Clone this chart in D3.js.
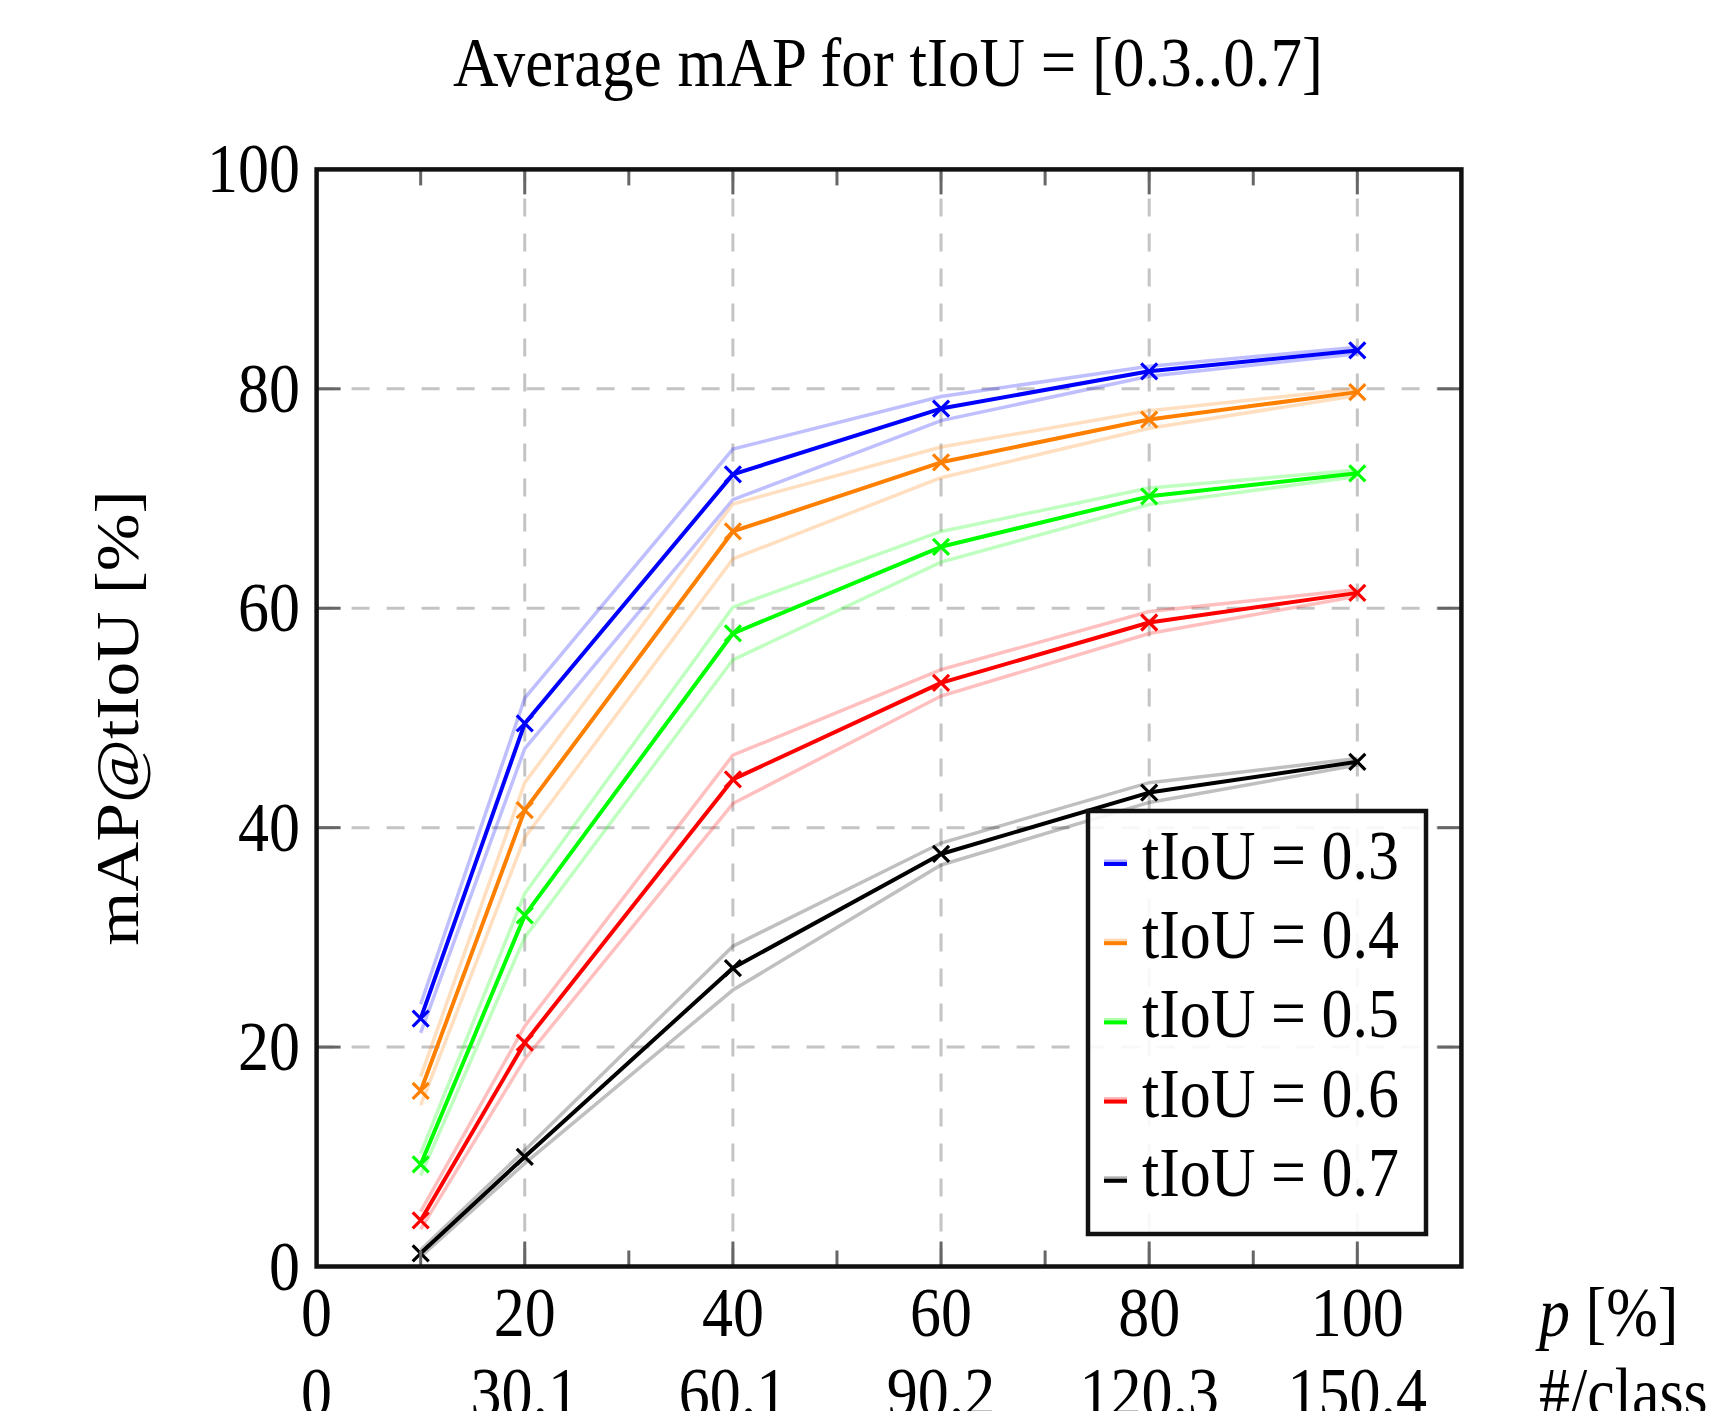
<!DOCTYPE html>
<html>
<head>
<meta charset="utf-8">
<script src="https://cdn.jsdelivr.net/npm/d3@7"></script>
<style>
  html, body { margin: 0; padding: 0; background: #fff; }
  svg { display: block; }
  text { font-family: "Liberation Serif", "DejaVu Serif", serif; fill: #000; }
</style>
</head>
<body>
<svg id="chart" width="1736" height="1411"></svg>
<script>
// ---------- data ----------
const pValues = [10, 20, 40, 60, 80, 100];
const seriesNames = ["tIoU = 0.3", "tIoU = 0.4", "tIoU = 0.5", "tIoU = 0.6", "tIoU = 0.7"];
const seriesColors = ["#0000ff", "#ff8000", "#00ff00", "#ff0000", "#000000"];
const mean03 = [22.6, 49.5, 72.2, 78.2, 81.6, 83.5];
const mean04 = [16.0, 41.6, 67.0, 73.3, 77.2, 79.7];
const mean05 = [9.3, 32.0, 57.7, 65.6, 70.2, 72.3];
const mean06 = [4.2, 20.4, 44.4, 53.2, 58.7, 61.4];
const mean07 = [1.2, 10.0, 27.2, 37.6, 43.2, 46.0];
const spread03 = [1.3, 2.3, 2.3, 1.1, 0.45, 0.3];
const spread04 = [1.3, 2.5, 2.5, 1.4, 0.8, 0.3];
const spread05 = [1.0, 2.0, 2.4, 1.4, 0.75, 0.3];
const spread06 = [0.8, 1.5, 2.2, 1.2, 1.0, 0.3];
const spread07 = [0.3, 0.6, 2.0, 1.0, 0.9, 0.3];
const xTicks = [0, 20, 40, 60, 80, 100];
const xTickLabels = ["0", "20", "40", "60", "80", "100"];
const xTickLabels2 = ["0", "30.1", "60.1", "90.2", "120.3", "150.4"];
const xMinorTicks = [10, 30, 50, 70, 90];
const yTicks = [0, 20, 40, 60, 80, 100];
const yTickLabels = ["0", "20", "40", "60", "80", "100"];
const titleText = "Average mAP for tIoU = [0.3..0.7]";
const yLabelText = "mAP@tIoU [%]";

const means = [mean03, mean04, mean05, mean06, mean07];
const spreads = [spread03, spread04, spread05, spread06, spread07];

// ---------- layout ----------
const pLeft = 316.6, pRight = 1461.4, pTop = 169.4, pBottom = 1266.5;
const FS = 62, SY = 1.12;
const svg = d3.select("#chart");
const x = d3.scaleLinear().domain([0, 110]).range([pLeft, pRight]);
const y = d3.scaleLinear().domain([0, 100]).range([pBottom, pTop]);

function tx(g, px, py, anchor, fs) {
  return g.append("text").attr("transform", `translate(${px},${py}) scale(1,${SY})`)
    .attr("text-anchor", anchor || "start").attr("font-size", fs || FS);
}

// grid
const grid = svg.append("g").attr("stroke", "#c4c4c4").attr("stroke-width", 3)
  .attr("stroke-dasharray", "18,17").attr("fill", "none");
grid.selectAll("line.vx").data(xTicks.filter(d => d > 0)).join("line").attr("class", "vx")
  .attr("x1", d => x(d)).attr("x2", d => x(d)).attr("y1", pBottom).attr("y2", pTop);
grid.selectAll("line.hy").data(yTicks.filter(d => d > 0 && d < 100)).join("line")
  .attr("class", "hy")
  .attr("y1", d => y(d)).attr("y2", d => y(d)).attr("x1", pLeft).attr("x2", pRight);

// series
const plot = svg.append("g");
const line = d3.line().x(d => x(d[0])).y(d => y(d[1]));
means.forEach((m, i) => {
  const col = seriesColors[i];
  const s = spreads[i];
  const up = pValues.map((p, k) => [p, m[k] + s[k]]);
  const lo = pValues.map((p, k) => [p, m[k] - s[k]]);
  [up, lo].forEach(b => {
    plot.append("path").attr("d", line(b)).attr("fill", "none")
      .attr("stroke", col).attr("stroke-opacity", 0.25).attr("stroke-width", 3.5);
  });
  const pts = pValues.map((p, k) => [p, m[k]]);
  plot.append("path").attr("d", line(pts)).attr("fill", "none")
    .attr("stroke", col).attr("stroke-width", 4).attr("stroke-linejoin", "round");
  plot.selectAll(null).data(pts).join("path")
    .attr("transform", d => `translate(${x(d[0])},${y(d[1])})`)
    .attr("d", "M-8,-8L8,8M-8,8L8,-8")
    .attr("stroke", col).attr("stroke-width", 3.2).attr("fill", "none");
});

// ticks
const ticks = svg.append("g").attr("stroke", "#666").attr("stroke-width", 3);
xTicks.filter(d => d > 0).forEach(d => {
  ticks.append("line").attr("x1", x(d)).attr("x2", x(d)).attr("y1", pBottom).attr("y2", pBottom - 25);
  ticks.append("line").attr("x1", x(d)).attr("x2", x(d)).attr("y1", pTop).attr("y2", pTop + 25);
});
xMinorTicks.forEach(d => {
  ticks.append("line").attr("x1", x(d)).attr("x2", x(d)).attr("y1", pBottom).attr("y2", pBottom - 16);
  ticks.append("line").attr("x1", x(d)).attr("x2", x(d)).attr("y1", pTop).attr("y2", pTop + 16);
});
yTicks.filter(d => d > 0 && d < 100).forEach(d => {
  ticks.append("line").attr("y1", y(d)).attr("y2", y(d)).attr("x1", pLeft).attr("x2", pLeft + 24);
  ticks.append("line").attr("y1", y(d)).attr("y2", y(d)).attr("x1", pRight).attr("x2", pRight - 24);
});

// frame
svg.append("rect").attr("x", pLeft).attr("y", pTop).attr("width", pRight - pLeft).attr("height", pBottom - pTop)
  .attr("fill", "none").attr("stroke", "#111").attr("stroke-width", 4.5);

// tick labels
const lab = svg.append("g");
yTicks.forEach((d, i) => tx(lab, 300, y(d) + 23, "end").text(yTickLabels[i]));
xTicks.forEach((d, i) => tx(lab, x(d), 1336, "middle").text(xTickLabels[i]));
xTicks.forEach((d, i) => tx(lab, x(d), 1416, "middle").text(xTickLabels2[i]));

// axis labels
const pl = tx(lab, 1539, 1336);
pl.append("tspan").attr("font-style", "italic").text("p");
pl.append("tspan").text(" [%]");
tx(lab, 1539, 1416).text("#/class");
lab.append("text").attr("transform", `translate(138,${(pTop + pBottom) / 2}) rotate(-90) scale(${SY},1)`)
  .attr("text-anchor", "middle").attr("font-size", FS).text(yLabelText);

// title
tx(svg, 888, 86, "middle", 63).text(titleText);

// legend
const lg = svg.append("g");
lg.append("rect").attr("x", 1088).attr("y", 811).attr("width", 338).attr("height", 423)
  .attr("fill", "#fff").attr("fill-opacity", 0.88).attr("stroke", "#111").attr("stroke-width", 4.5);
seriesNames.forEach((n, i) => {
  const by = 879 + i * 79.2;
  lg.append("line").attr("x1", 1104).attr("x2", 1127).attr("y1", by - 18).attr("y2", by - 18)
    .attr("stroke", seriesColors[i]).attr("stroke-opacity", 0.3).attr("stroke-width", 3);
  lg.append("line").attr("x1", 1104).attr("x2", 1127).attr("y1", by - 15).attr("y2", by - 15)
    .attr("stroke", seriesColors[i]).attr("stroke-width", 4);
  tx(lg, 1142, by).text(n);
});
</script>
</body>
</html>
